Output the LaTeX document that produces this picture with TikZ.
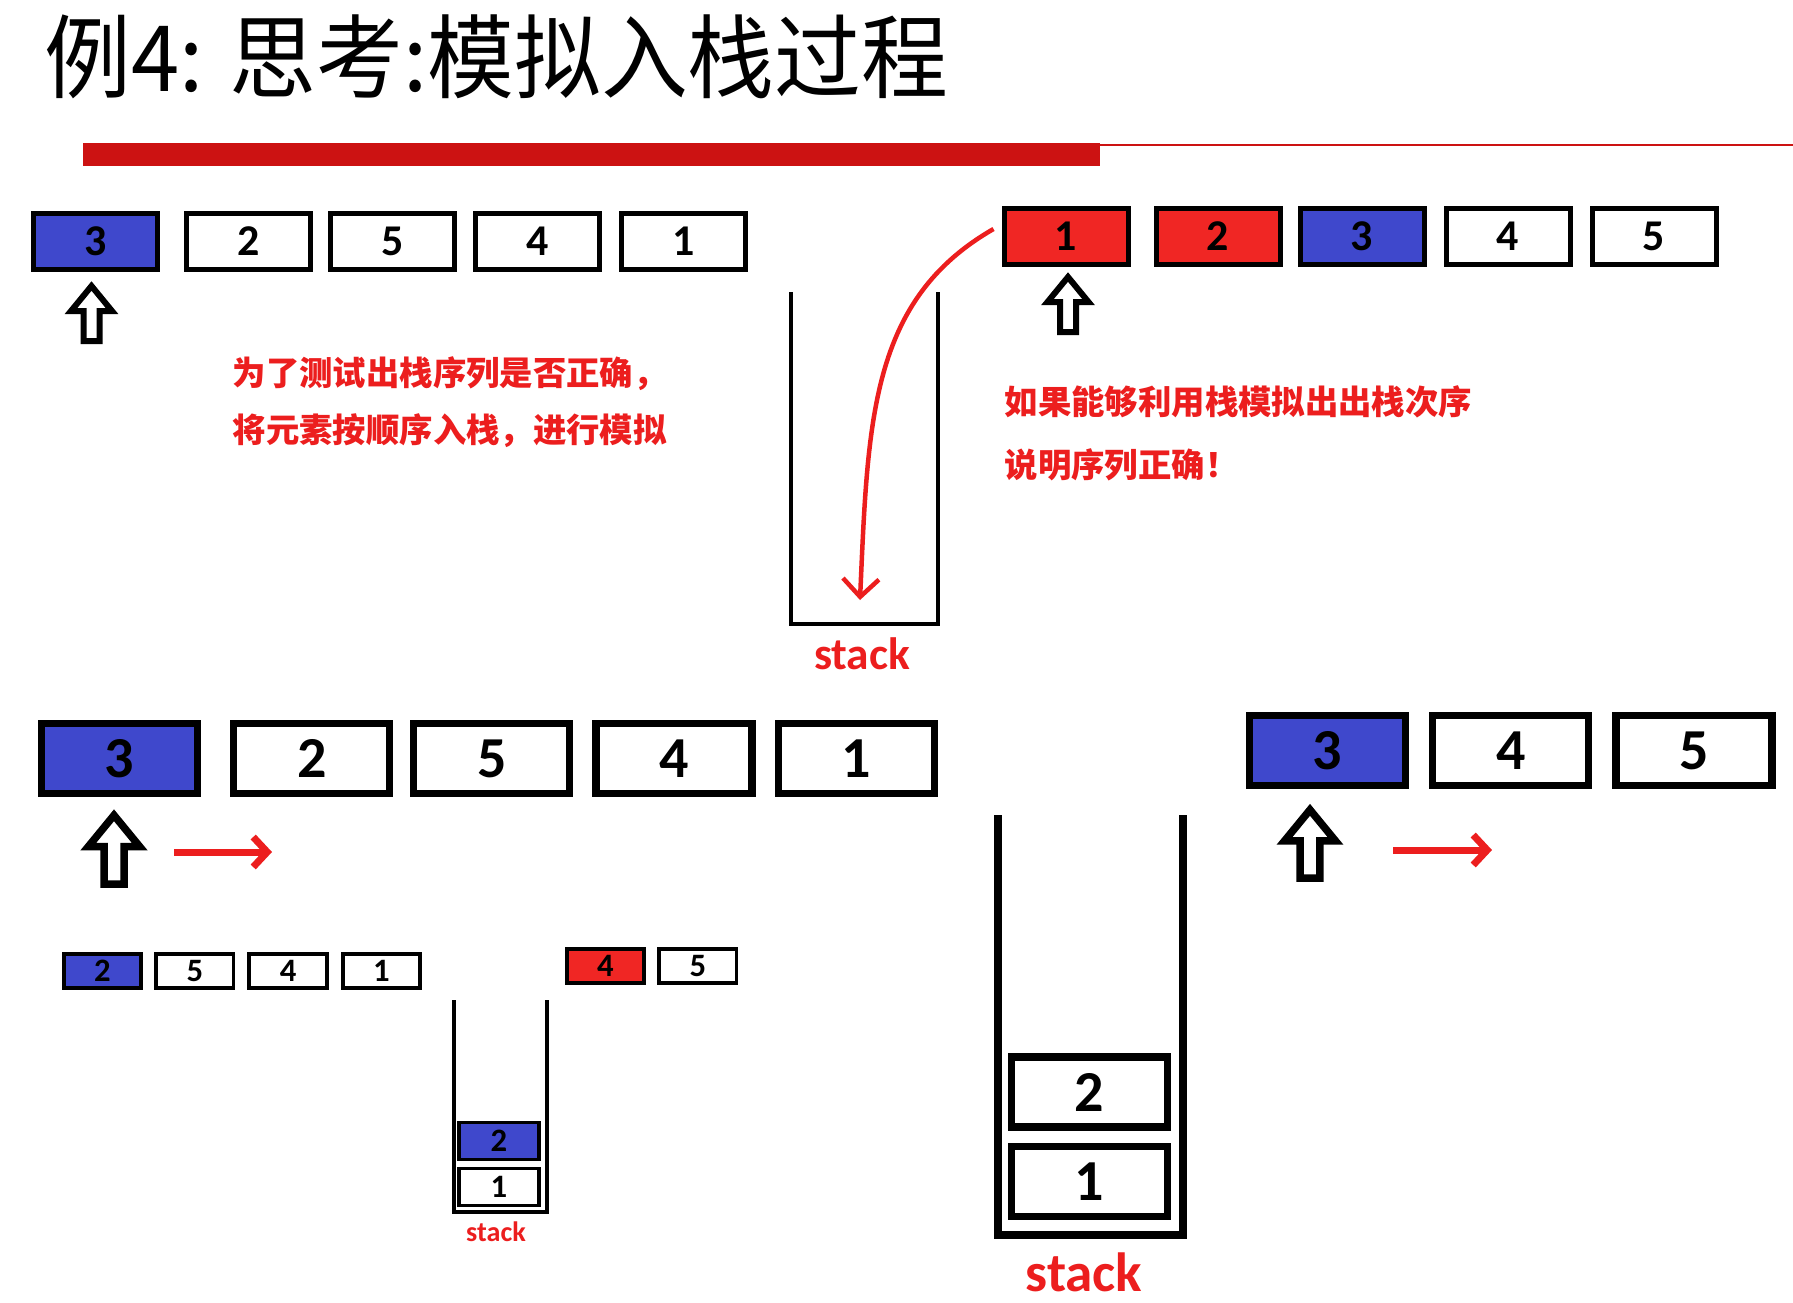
\documentclass[tikz,border=0pt]{standalone}
\usepackage{fontspec}
\setmainfont{Carlito}
\newfontfamily\cjk{Noto Sans CJK SC}
\usetikzlibrary{positioning,arrows.meta}

\definecolor{cellblue}{RGB}{63,72,204}
\definecolor{cellred}{RGB}{240,38,36}
\definecolor{hintred}{RGB}{236,30,30}
\definecolor{barred}{RGB}{204,18,18}

\tikzset{
  cell/.style={draw, fill=white, inner sep=0pt},
  cellA/.style={cell, line width=0.5mm, minimum width=12.4mm, minimum height=5.6mm, font=\fontsize{12.5pt}{12.5pt}\selectfont\bfseries},
  cellL/.style={cell, line width=0.72mm, minimum width=15.6mm, minimum height=7mm, font=\fontsize{16.5pt}{16.5pt}\selectfont\bfseries},
  cellS/.style={cell, line width=0.38mm, minimum width=7.75mm, minimum height=3.45mm, font=\fontsize{9.3pt}{9.3pt}\selectfont\bfseries},
  bluecell/.style={fill=cellblue},
  redcell/.style={fill=cellred},
  stackwall/.style={draw, line join=miter},
  hint/.style={anchor=west, text=hintred, align=left, inner sep=0pt, font=\cjk\bfseries\fontsize{9.5pt}{#1}\selectfont},
  stacklabel/.style={text=hintred, inner sep=0pt, font=\fontsize{#1}{#1}\selectfont\bfseries},
  redarrow/.style={draw=hintred, line width=0.7mm, -{Straight Barb[length=1.4mm,width=3mm]}},
  hollowup/.pic={\draw[fill=white, line join=miter] (-8,0) -- (-8,-30) -- (-20.5,-30) -- (0,-55) -- (20.5,-30) -- (8,-30) -- (8,0) -- cycle;}
}

\begin{document}
\begin{tikzpicture}[x=0.1mm, y=-0.1mm]
\fill[white] (0,0) rectangle (1793,1303);
\useasboundingbox (0,0) rectangle (1793,1303);

% title
\node[anchor=west, inner sep=0pt, xscale=0.95, font=\cjk\fontsize{26pt}{26pt}\selectfont] (title) at (44,57) {例4: 思考:模拟入栈过程};
\fill[barred] (83,143) rectangle (1100,166);
\draw[barred, line width=0.2mm] (1100,144.5) -- (1793,144.5);

% top left: sequence to test
\node[cellA, bluecell] (a1) at (95.5,241.5) {3};
\node[cellA, right=2.4mm of a1] (a2) {2};
\node[cellA, right=1.5mm of a2] (a3) {5};
\node[cellA, right=1.6mm of a3] (a4) {4};
\node[cellA, right=1.7mm of a4] (a5) {1};
\pic[line width=0.6mm] at (91.5,341) {hollowup};

\node[hint=16.2pt] (hint1) at (232,402) {为了测试出栈序列是否正确，\\将元素按顺序入栈，进行模拟};

% top middle: empty stack
\draw[stackwall, line width=0.48mm] (791,292) -- (791,624) -- (938,624) -- (938,292);
\node[stacklabel=12.9pt] (s1label) at (862,654) {stack};

% top right: push order
\node[cellA, redcell] (b1) at (1066,236) {1};
\node[cellA, redcell, right=2.3mm of b1] (b2) {2};
\node[cellA, bluecell, right=1.5mm of b2] (b3) {3};
\node[cellA, right=1.7mm of b3] (b4) {4};
\node[cellA, right=1.7mm of b4] (b5) {5};
\pic[line width=0.6mm] at (1068,332) {hollowup};
\coordinate (s1in) at (860,600);
\draw[hintred, line width=0.45mm, -{Straight Barb[length=1.8mm,width=3.6mm]}] ([xshift=-0.8mm, yshift=0.7mm]b1.west) .. controls (870,300) and (868,420) .. (s1in);

\node[hint=17.9pt] (hint2) at (1004,433) {如果能够利用栈模拟出出栈次序\\说明序列正确！};

% bottom left
\node[cellL, bluecell] (c1) at (119.5,758.5) {3};
\node[cellL, right=2.9mm of c1] (c2) {2};
\node[cellL, right=1.7mm of c2] (c3) {5};
\node[cellL, right=1.9mm of c3] (c4) {4};
\node[cellL, right=1.9mm of c4] (c5) {1};
\pic[scale=1.25, line width=0.75mm] at (114,884) {hollowup};
\coordinate (cfrom) at (174,852);
\coordinate (cto) at (272,852);
\draw[redarrow] (cfrom) -- (cto);

\node[cellS, bluecell] (d1) at (102.5,971) {2};
\node[cellS, right=1.1mm of d1] (d2) {5};
\node[cellS, right=1.2mm of d2] (d3) {4};
\node[cellS, right=1.2mm of d3] (d4) {1};

\node[cellS, redcell] (e1) at (605.5,966) {4};
\node[cellS, right=1.1mm of e1] (e2) {5};

\draw[stackwall, line width=0.38mm] (454,1000) -- (454,1212) -- (547,1212) -- (547,1000);
\node[cellS, bluecell, minimum width=8mm, minimum height=3.7mm] (g2) at (499,1141) {2};
\node[cellS, minimum width=8mm, minimum height=3.7mm] (g1) at (499,1187) {1};
\node[stacklabel=8pt] (s2label) at (496,1232) {stack};

% bottom right
\draw[stackwall, line width=0.72mm] (998,815) -- (998,1235) -- (1183,1235) -- (1183,815);
\node[cellL] (h2) at (1089.5,1092) {2};
\node[cellL] (h1) at (1089.5,1181.5) {1};
\node[stacklabel=15.7pt] (s3label) at (1084,1272) {stack};

\node[cellL, bluecell] (f1) at (1327.5,750.5) {3};
\node[cellL, right=2mm of f1] (f2) {4};
\node[cellL, right=2mm of f2] (f3) {5};
\pic[scale=1.24, line width=0.75mm] at (1310,878) {hollowup};
\coordinate (ffrom) at (1393,850);
\coordinate (fto) at (1492,850);
\draw[redarrow] (ffrom) -- (fto);
\end{tikzpicture}
\end{document}
